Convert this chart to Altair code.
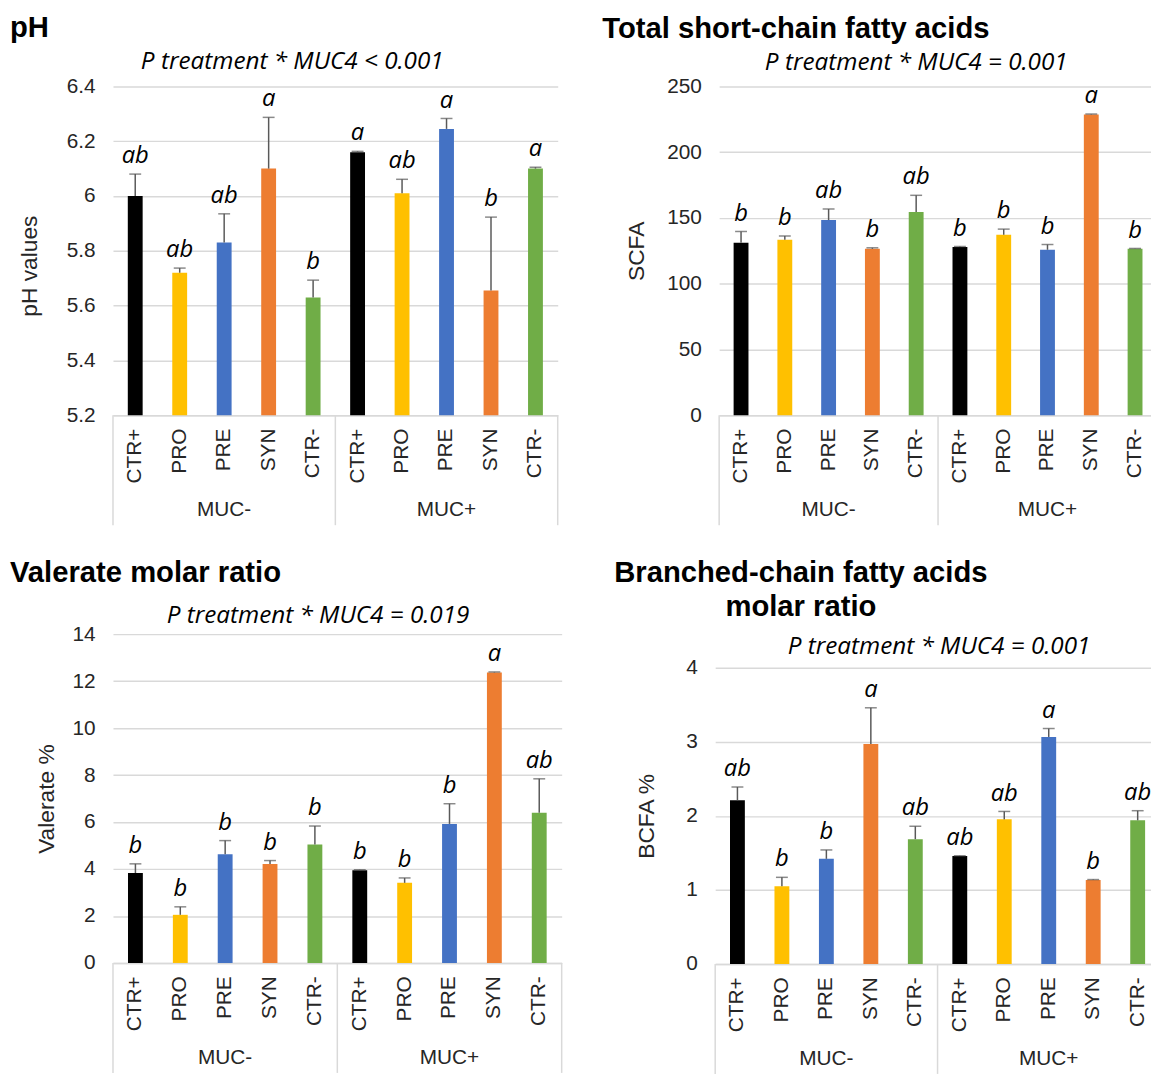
import altair as alt
import pandas as pd

treatments = ["CTR+", "PRO", "PRE", "SYN", "CTR-"]
groups = ["MUC-", "MUC+"]
colors = ["#000000", "#FFC000", "#4472C4", "#ED7D31", "#70AD47"]

ph_mean = [6.00, 5.72, 5.83, 6.10, 5.63, 6.16, 6.01, 6.245, 5.655, 6.10]
ph_sd = [0.08, 0.017, 0.105, 0.187, 0.063, 0.003, 0.051, 0.038, 0.268, 0.005]
ph_letters = ["ab", "ab", "ab", "a", "b", "a", "ab", "a", "b", "a"]

scfa_mean = [131.1, 133.4, 148.4, 126.5, 154.5, 128.0, 137.2, 125.8, 228.7, 126.5]
scfa_sd = [8.6, 2.8, 8.4, 0.8, 12.7, 0.3, 4.3, 4.0, 0.3, 0.3]
scfa_letters = ["b", "b", "ab", "b", "ab", "b", "b", "b", "a", "b"]

val_mean = [3.83, 2.05, 4.63, 4.21, 5.04, 3.95, 3.41, 5.92, 12.37, 6.40]
val_sd = [0.39, 0.34, 0.58, 0.15, 0.79, 0.02, 0.21, 0.86, 0.02, 1.44]
val_letters = ["b", "b", "b", "b", "b", "b", "b", "b", "a", "ab"]

bcfa_mean = [2.21, 1.05, 1.42, 2.97, 1.685, 1.457, 1.953, 3.066, 1.135, 1.94]
bcfa_sd = [0.18, 0.12, 0.12, 0.49, 0.175, 0.005, 0.107, 0.114, 0.005, 0.13]
bcfa_letters = ["ab", "b", "b", "a", "ab", "ab", "ab", "a", "b", "ab"]

ids = [f"{t}|{g}" for g in groups for t in treatments]

AX_FONT = "Liberation Sans"
IT_FONT = "Open Sans"
TXT = "#262626"
GRID = "#d9d9d9"


def panel(mean, sd, letters, ymin, ymax, ticks, ytitle, title, subtitle,
          width, height, title_dx, title_anchor, sub_x, sub_y, ytitle_pad,
          title_offset, ytitle_y=None, extra_left=0):
    rows = []
    i = 0
    for g in groups:
        for t in treatments:
            rows.append({"id": f"{t}|{g}", "treatment": t, "group": g,
                         "mean": mean[i], "top": mean[i] + sd[i],
                         "letter": letters[i]})
            i += 1
    df = pd.DataFrame(rows)

    xenc = alt.X("id:N", sort=ids,
                 scale=alt.Scale(paddingInner=0, paddingOuter=0),
                 axis=alt.Axis(title=None,
                               labelExpr="split(datum.value, '|')[0]",
                               labelAngle=270, labelFontSize=21,
                               labelFont=AX_FONT, labelColor=TXT,
                               labelPadding=13, ticks=False,
                               domainColor=GRID, domainWidth=1.5,
                               grid=False))
    yscale = alt.Scale(domain=[ymin, ymax], nice=False, zero=False)
    yaxis_kw = dict(values=ticks, format="~r", title=ytitle,
                    titleFont=AX_FONT, titleFontSize=23,
                    titleFontWeight="normal", titleColor=TXT,
                    titlePadding=ytitle_pad,
                    labelFont=AX_FONT, labelFontSize=21, labelColor=TXT,
                    labelPadding=18, domain=False, ticks=False,
                    gridColor=GRID, gridWidth=1.5)
    if ytitle_y is not None:
        yaxis_kw["titleY"] = ytitle_y
    yaxis = alt.Axis(**yaxis_kw)

    base = alt.Chart(df)
    bars = base.mark_bar(size=15).encode(
        x=xenc,
        y=alt.Y("mean:Q", scale=yscale, axis=yaxis),
        y2=alt.datum(ymin),
        color=alt.Color("treatment:N",
                        scale=alt.Scale(domain=treatments, range=colors),
                        legend=None),
    )
    err = base.mark_rule(color="#595959", strokeWidth=1.5).encode(
        x=alt.X("id:N", sort=ids), y="mean:Q", y2="top:Q")
    cap = base.mark_tick(color="#595959", thickness=1.5, size=12).encode(
        x=alt.X("id:N", sort=ids), y="top:Q")
    lett = base.mark_text(font=IT_FONT, fontStyle="italic", fontSize=24,
                          baseline="alphabetic", dy=-11, color="black").encode(
        x=alt.X("id:N", sort=ids), y="top:Q", text="letter:N")

    sep_df = pd.DataFrame({"id": [ids[0], ids[5]]})
    sep = alt.Chart(sep_df).mark_rule(color=GRID, strokeWidth=1.5).encode(
        x=alt.X("id:N", sort=ids, bandPosition=0),
        y=alt.value(height), y2=alt.value(height + 111))
    sep_end = alt.Chart(pd.DataFrame({"id": [ids[-1]]})).mark_rule(
        color=GRID, strokeWidth=1.5).encode(
        x=alt.X("id:N", sort=ids, bandPosition=1),
        y=alt.value(height), y2=alt.value(height + 111))

    grp_df = pd.DataFrame({"id": ["PRE|MUC-", "PRE|MUC+"],
                           "label": groups})
    grp = alt.Chart(grp_df).mark_text(font=AX_FONT, fontSize=21,
                                      color=TXT, baseline="middle").encode(
        x=alt.X("id:N", sort=ids), y=alt.value(height + 96), text="label:N")

    sub = alt.Chart(pd.DataFrame({"t": [subtitle]})).mark_text(
        font=IT_FONT, fontStyle="italic", fontSize=24.5, color="black",
        baseline="alphabetic").encode(
        x=alt.value(sub_x), y=alt.value(sub_y), text="t:N")

    layers = [bars, err, cap, lett, sep, sep_end, grp, sub]
    if extra_left:
        spacer = alt.Chart(pd.DataFrame({"s": [0]})).mark_rule(
            strokeOpacity=0, opacity=0).encode(
            x=alt.value(-extra_left), y=alt.value(0), y2=alt.value(10))
        layers.append(spacer)

    tp = dict(text=title, frame="group", dx=title_dx, fontSize=29.5,
              font=AX_FONT, fontWeight="bold", color="black",
              offset=title_offset, lineHeight=34)
    tp["anchor"] = "start" if title_anchor == "start" else "middle"
    return alt.layer(*layers).properties(
        width=width, height=height, title=alt.TitleParams(**tp))


p1 = panel(ph_mean, ph_sd, ph_letters, 5.2, 6.4,
           [5.2, 5.4, 5.6, 5.8, 6, 6.2, 6.4], "pH values", "pH",
           "P treatment * MUC4 < 0.001", 449, 332, -104, "start", 181, -18,
           25, 5, ytitle_y=181)
p2 = panel(scfa_mean, scfa_sd, scfa_letters, 0, 250,
           [0, 50, 100, 150, 200, 250], "SCFA",
           "Total short-chain fatty acids",
           "P treatment * MUC4 = 0.001", 442, 332, -118, "start", 199, -17,
           18, 5)
p3 = panel(val_mean, val_sd, val_letters, 0, 14,
           [0, 2, 4, 6, 8, 10, 12, 14], "Valerate %",
           "Valerate molar ratio",
           "P treatment * MUC4 = 0.019", 453, 332, -104, "start", 207, -11,
           14, 15)
p4 = panel(bcfa_mean, bcfa_sd, bcfa_letters, 0, 4,
           [0, 0.5, 1, 1.5, 2, 2.5, 3, 3.5, 4], "BCFA %",
           ["Branched-chain fatty acids", "molar ratio"],
           "P treatment * MUC4 = 0.001", 449, 299, -138, "middle", 226, -14,
           28, 12, extra_left=114)

chart = alt.concat(
    p1, p2, p3, p4,
    columns=2,
    align="none",
    spacing={"row": 32, "column": 40},
).properties(padding={"left": 2, "top": 0, "right": -10, "bottom": 0}
             ).configure_view(stroke=None)

chart.save("out.html", embed_options={"renderer": "svg", "actions": False})
